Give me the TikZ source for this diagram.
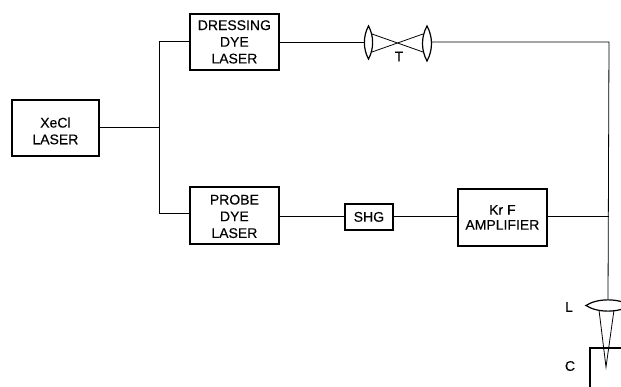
\documentclass[tikz,border=0pt]{standalone}
\usepackage{fontspec}
\setmainfont{Liberation Sans}[FakeBold=0.25]
\newcommand{\labfont}{\addfontfeature{FakeBold=0.25}\fontsize{14}{16.7}\selectfont}
\tikzset{
  box/.style={draw, line width=1.8pt, anchor=north west, inner sep=0pt, align=center,
    font=\labfont},
  inbox/.style={font=\labfont, align=center, inner sep=0pt},
  beam/.style={line width=0.8pt},
  optic/.style={line width=1.2pt, fill=white},
  lab/.style={font=\labfont, inner sep=0pt}
}
\begin{document}
\begin{tikzpicture}[x=1pt,y=-1pt]
\useasboundingbox (0,0) rectangle (621,387);
\clip (0,0) rectangle (621,387);
% boxes
\node[box, minimum width=87pt, minimum height=56pt,
  label={[inbox,yshift=-3pt]center:XeCl\\LASER}] (xecl) at (11,99) {};
\node[box, minimum width=89pt, minimum height=56pt] (dress) at (189,13) {DRESSING\\DYE\\LASER};
\node[box, minimum width=89pt, minimum height=57pt,
  label={[inbox,yshift=-1pt]center:PROBE\\DYE\\LASER}] (probe) at (189,186) {};
\node[box, minimum width=48pt, minimum height=26pt] (shg) at (344,203) {SHG};
\node[box, minimum width=89pt, minimum height=57pt,
  font=\addfontfeature{FakeBold=0.25}\fontsize{14}{15}\selectfont] (krf) at (457,188) {Kr F\\AMPLIFIER};
% junctions and free points
\coordinate (j0) at (159,127);
\coordinate (jd) at (159,41);
\coordinate (jp) at (159,213);
\coordinate (turn) at (609,42);
\coordinate (merge) at (609,216);
% telescope
\coordinate (t1l) at (365,42);
\coordinate (t2r) at (432,42);
% focusing lens
\coordinate (ltop) at (608,300);
% connectors
\draw[beam] (xecl.east |- j0) -- (j0);
\draw[beam] (dress.west |- jd) -- (jd) -- (jp) -- (probe.west |- jp);
\draw[beam] (dress.east |- t1l) -- (t1l);
\draw[beam] (t2r) -- (turn) -- (ltop);
\draw[beam] (probe.east |- shg.west) -- (shg.west);
\draw[beam] (shg.east) -- (krf.west |- shg.east);
\draw[beam] (krf.east |- merge) -- (merge);
% telescope rays
\draw[line width=0.8pt] (372,34) -- (423,52) (372,52) -- (423,34);
% telescope lenses
\draw[optic] (368.5,26) .. controls (363,36) and (363,49) .. (368.5,59)
             .. controls (374,49) and (374,36) .. (368.5,26) -- cycle;
\draw[optic] (427,26) .. controls (421,37) and (421,50) .. (427,61)
             .. controls (433,50) and (433,37) .. (427,26) -- cycle;
\node[lab] (T) at (399,56.5) {T};
% cell
\draw[line width=1.6pt] (590,387) -- (590,348) -- (630,348) -- (630,387);
% focused cone
\draw[line width=0.8pt] (599,310) -- (606,367) -- (614,310);
% lens L
\draw[optic] (586,305.5) .. controls (597,298) and (619,298) .. (630,305.5)
             .. controls (619,313) and (597,313) .. (586,305.5) -- cycle;
\node[lab] (L) at (569,307) {L};
\node[lab] (C) at (570,366) {C};
\end{tikzpicture}
\end{document}
